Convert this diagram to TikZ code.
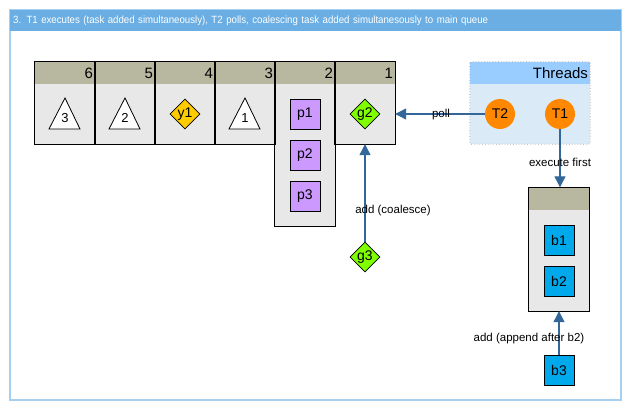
\documentclass[tikz,border=0pt]{standalone}
\usepackage{fontspec}
\setmainfont{Liberation Sans}
\newfontfamily\titlefont{Liberation Sans}[FakeStretch=0.92]
\usetikzlibrary{arrows.meta,shapes.geometric,positioning}

\definecolor{framecol}{HTML}{A6D0F2}
\definecolor{titlecol}{HTML}{6AAEE3}
\definecolor{headcol}{HTML}{B8B8A0}
\definecolor{bodycol}{HTML}{E8E8E8}
\definecolor{thrhead}{HTML}{99CCFF}
\definecolor{thrbody}{HTML}{DAEAF6}
\definecolor{pcol}{HTML}{CC99FF}
\definecolor{gcol}{HTML}{80FF00}
\definecolor{ycol}{HTML}{FFCC00}
\definecolor{bcol}{HTML}{00A8EC}
\definecolor{tcol}{HTML}{FF8800}
\definecolor{arrowcol}{HTML}{336699}

\begin{document}
\begin{tikzpicture}[x=1pt,y=-1pt]
\tikzset{
  colhead/.style={rectangle,fill=headcol,minimum width=60pt,minimum height=22pt,
    text width=56pt,align=right,inner sep=2pt,font=\fontsize{15}{17}\selectfont},
  colbody/.style={rectangle,fill=bodycol,minimum width=60pt,inner sep=0pt},
  colframe/.style={draw=black,line width=1.2pt},
  tasksquare/.style={rectangle,draw=black,thick,minimum width=30pt,minimum height=30pt,
    inner sep=0pt,font=\fontsize{14}{16}\selectfont},
  taskdiamond/.style={diamond,draw=black,thick,minimum width=30pt,minimum height=30pt,
    inner sep=0pt,font=\fontsize{14}{16}\selectfont},
  tasklabel/.style={inner sep=0pt,font=\fontsize{13}{15}\selectfont},
  thread/.style={circle,fill=tcol,minimum size=30pt,inner sep=0pt,font=\fontsize{14}{16}\selectfont},
  edgelabel/.style={inner sep=1pt,font=\fontsize{11.5}{14}\selectfont},
  flow/.style={-{Triangle[length=11pt,width=11pt]},draw=arrowcol,line width=1.2pt}
}
\useasboundingbox (0,0) rectangle (633,412);

% frame and title
\draw[framecol,line width=2pt] (10,10) rectangle (621,400);
\node[rectangle,fill=titlecol,anchor=north west,minimum width=611pt,minimum height=21pt,
  text width=605pt,align=left,inner sep=3pt,text=white,font=\titlefont\fontsize{10.5}{12}\selectfont]
  (n_title) at (10,10) {3. T1 executes (task added simultaneously), T2 polls, coalescing task added simultanesously to main queue};

% main queue
\node[colhead] (n_h6) at (65,73) {6};
\node[colhead] (n_h5) at (125,73) {5};
\node[colhead] (n_h4) at (185,73) {4};
\node[colhead] (n_h3) at (245,73) {3};
\node[colhead] (n_h2) at (305,73) {2};
\node[colhead] (n_h1) at (365,73) {1};
\node[colbody,minimum height=60pt] (n_c6) at (65,114) {};
\node[colbody,minimum height=60pt] (n_c5) at (125,114) {};
\node[colbody,minimum height=60pt] (n_c4) at (185,114) {};
\node[colbody,minimum height=60pt] (n_c3) at (245,114) {};
\node[colbody,minimum height=142pt] (n_c2) at (305,155) {};
\node[colbody,minimum height=60pt] (n_c1) at (365,114) {};
\draw[colframe] (n_h6.north west) rectangle (n_c6.south east);
\draw[colframe] (n_h5.north west) rectangle (n_c5.south east);
\draw[colframe] (n_h4.north west) rectangle (n_c4.south east);
\draw[colframe] (n_h3.north west) rectangle (n_c3.south east);
\draw[colframe] (n_h2.north west) rectangle (n_c2.south east);
\draw[colframe] (n_h1.north west) rectangle (n_c1.south east);

% tasks in the queue
\draw[fill=white,thick] (49,129) -- (65,98) -- (80,129) -- cycle;
\node[tasklabel] (n_t3) at (65,118) {3};
\draw[fill=white,thick] (109,129) -- (125,98) -- (140,129) -- cycle;
\node[tasklabel] (n_t2) at (125,118) {2};
\node[taskdiamond,fill=ycol] (n_y1) at (185,114) {y1};
\draw[fill=white,thick] (229,129) -- (245,98) -- (260,129) -- cycle;
\node[tasklabel] (n_t1) at (245,118) {1};
\node[tasksquare,fill=pcol] (n_p1) at (305,114) {p1};
\node[tasksquare,fill=pcol] (n_p2) at (305,155) {p2};
\node[tasksquare,fill=pcol] (n_p3) at (305,196) {p3};
\node[taskdiamond,fill=gcol] (n_g2) at (365,114) {g2};
\node[taskdiamond,fill=gcol] (n_g3) at (365,257) {g3};

% threads
\node[colhead,fill=thrhead,minimum width=120pt,text width=116pt] (n_thh) at (530,73) {Threads};
\node[colbody,fill=thrbody,minimum width=120pt,minimum height=60pt] (n_thb) at (530,114) {};
\draw[gray!70,dotted,thick,rounded corners=1.5pt] (n_thh.north west) rectangle (n_thb.south east);
\node[thread] (n_T2) at (500,114) {T2};
\node[thread] (n_T1) at (560,114) {T1};

% local queue of T1
\node[colhead] (n_qh) at (559,198.5) {};
\node[colbody,minimum height=101pt] (n_qb) at (559,260.5) {};
\draw[colframe] (n_qh.north west) rectangle (n_qb.south east);
\node[tasksquare,fill=bcol] (n_b1) at (559,240) {b1};
\node[tasksquare,fill=bcol] (n_b2) at (559,281) {b2};
\node[tasksquare,fill=bcol] (n_b3) at (559,370) {b3};

% connectors
\draw[flow] (n_T2) -- (n_c1.east |- n_T2);
\node[edgelabel] (n_poll) at (441,115) {poll};
\draw[flow] (n_T1) -- (n_qh.north -| n_T1);
\node[edgelabel] (n_exec) at (560,162) {execute first};
\draw[flow] (n_g3) -- (n_c1.south);
\node[edgelabel] (n_coal) at (393,211) {add (coalesce)};
\draw[flow] (n_b3) -- (n_qb.south -| n_b3);
\node[edgelabel] (n_app) at (529,339) {add (append after b2)};
\end{tikzpicture}
\end{document}
